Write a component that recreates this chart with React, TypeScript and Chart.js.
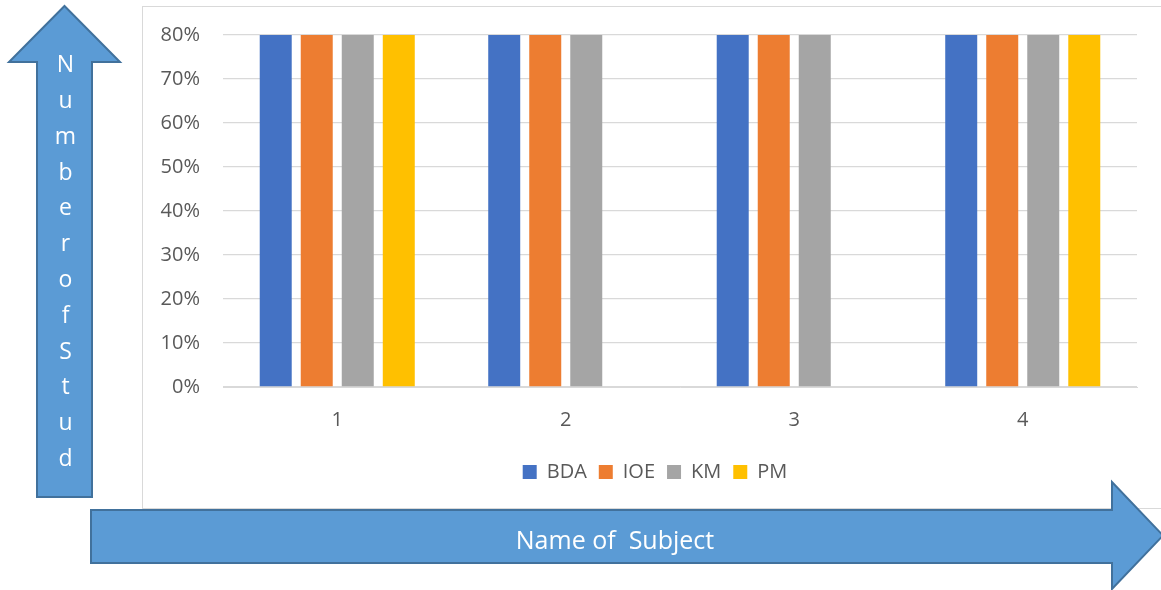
import React, { useEffect, useRef } from "react";
import { Chart, registerables } from "chart.js";

Chart.register(...registerables);

// ---- data ----
const categories = ["1", "2", "3", "4"];
const seriesNames = ["BDA", "IOE", "KM", "PM"];
const bdaValues = [80, 80, 80, 80];
const ioeValues = [80, 80, 80, 80];
const kmValues = [80, 80, 80, 80];
const pmValues = [80, 0, 0, 80];
const seriesColors = ["#4472C4", "#ED7D31", "#A5A5A5", "#FFC000"];
const yMin = 0;
const yMax = 80;
const yStep = 10;
const yAxisTitle = "Number of Stud";
const xAxisTitle = "Name of  Subject";

const FONT = "'Open Sans', 'DejaVu Sans', sans-serif";
const TEXT = "#595959";
const GRID = "#D9D9D9";
const ARROW_FILL = "#5B9BD5";
const ARROW_STROKE = "#41719C";

// shifts the legend horizontally to sit where the reference has it
const legendShift = {
  id: "legendShift",
  afterLayout(chart: any) {
    const lg = chart.legend;
    if (lg) {
      lg.left = 30;
      lg.right = 994;
    }
  },
};

export default function App() {
  const canvasRef = useRef<HTMLCanvasElement | null>(null);

  useEffect(() => {
    if (!canvasRef.current) return;
    const values = [bdaValues, ioeValues, kmValues, pmValues];
    const chart = new Chart(canvasRef.current, {
      type: "bar",
      data: {
        labels: categories,
        datasets: seriesNames.map((name, i) => ({
          label: name,
          data: values[i],
          backgroundColor: seriesColors[i],
          borderWidth: 0,
          categoryPercentage: 0.718,
          barPercentage: 0.78,
        })),
      },
      plugins: [legendShift],
      options: {
        animation: false,
        responsive: false,
        maintainAspectRatio: false,
        events: [],
        layout: { padding: { left: 0, right: 24, top: 28, bottom: 17 } },
        plugins: {
          legend: {
            position: "bottom",
            labels: {
              boxWidth: 14,
              boxHeight: 14,
              padding: 12,
              color: TEXT,
              font: { family: FONT, size: 20 },
            },
          },
          tooltip: { enabled: false },
        },
        scales: {
          x: {
            grid: { display: false, drawTicks: false },
            border: { display: true, color: GRID, width: 1 },
            ticks: { padding: 21, color: TEXT, font: { family: FONT, size: 20 } },
            afterFit: (s: any) => {
              s.height = 63;
              s.paddingLeft = 0;
              s.paddingRight = 0;
            },
          },
          y: {
            min: yMin,
            max: yMax,
            ticks: {
              stepSize: yStep,
              padding: 23,
              color: TEXT,
              font: { family: FONT, size: 20 },
              callback: (v: any) => `${v}%`,
            },
            grid: { color: GRID, lineWidth: 1.3, drawTicks: false },
            border: { display: false },
            afterFit: (s: any) => {
              s.width = 80;
              s.paddingTop = 0;
              s.paddingBottom = 0;
            },
          },
        },
      },
    });
    return () => chart.destroy();
  }, []);

  const letters = yAxisTitle.replace(/\s+/g, "").split("");

  return (
    <div
      style={{
        position: "fixed",
        left: 0,
        top: 0,
        width: 1161,
        height: 590,
        overflow: "hidden",
        background: "#fff",
        fontFamily: FONT,
      }}
    >
      <div
        style={{
          position: "absolute",
          left: 142,
          top: 6,
          width: 1040,
          height: 503,
          border: `1px solid ${GRID}`,
          boxSizing: "border-box",
        }}
      />
      <canvas
        ref={canvasRef}
        width={1018}
        height={502}
        style={{ position: "absolute", left: 143, top: 7, width: 1018, height: 502 }}
      />
      <svg
        width={1161}
        height={590}
        style={{ position: "absolute", left: 0, top: 0 }}
      >
        <polygon
          points="64.5,6 120,62 92,62 92,497 37,497 37,62 9,62"
          fill={ARROW_FILL}
          stroke={ARROW_STROKE}
          strokeWidth={2}
          strokeLinejoin="miter"
        />
        <polygon
          points="91,510 1112,510 1112,482 1163,535.5 1112,589 1112,563 91,563"
          fill={ARROW_FILL}
          stroke={ARROW_STROKE}
          strokeWidth={2}
          strokeLinejoin="miter"
        />
      </svg>
      <div
        style={{
          position: "absolute",
          left: 15.5,
          top: 46.2,
          width: 100,
          textAlign: "center",
          color: "#fff",
          fontSize: 23,
          lineHeight: "35.8px",
        }}
      >
        {letters.map((ch, i) => (
          <div key={i} style={{ height: 35.8 }}>
            {ch}
          </div>
        ))}
      </div>
      <div
        style={{
          position: "absolute",
          left: 0,
          top: 524.3,
          width: 1230,
          textAlign: "center",
          color: "#fff",
          fontSize: 25,
          lineHeight: "30px",
          whiteSpace: "pre",
        }}
      >
        {xAxisTitle}
      </div>
    </div>
  );
}
